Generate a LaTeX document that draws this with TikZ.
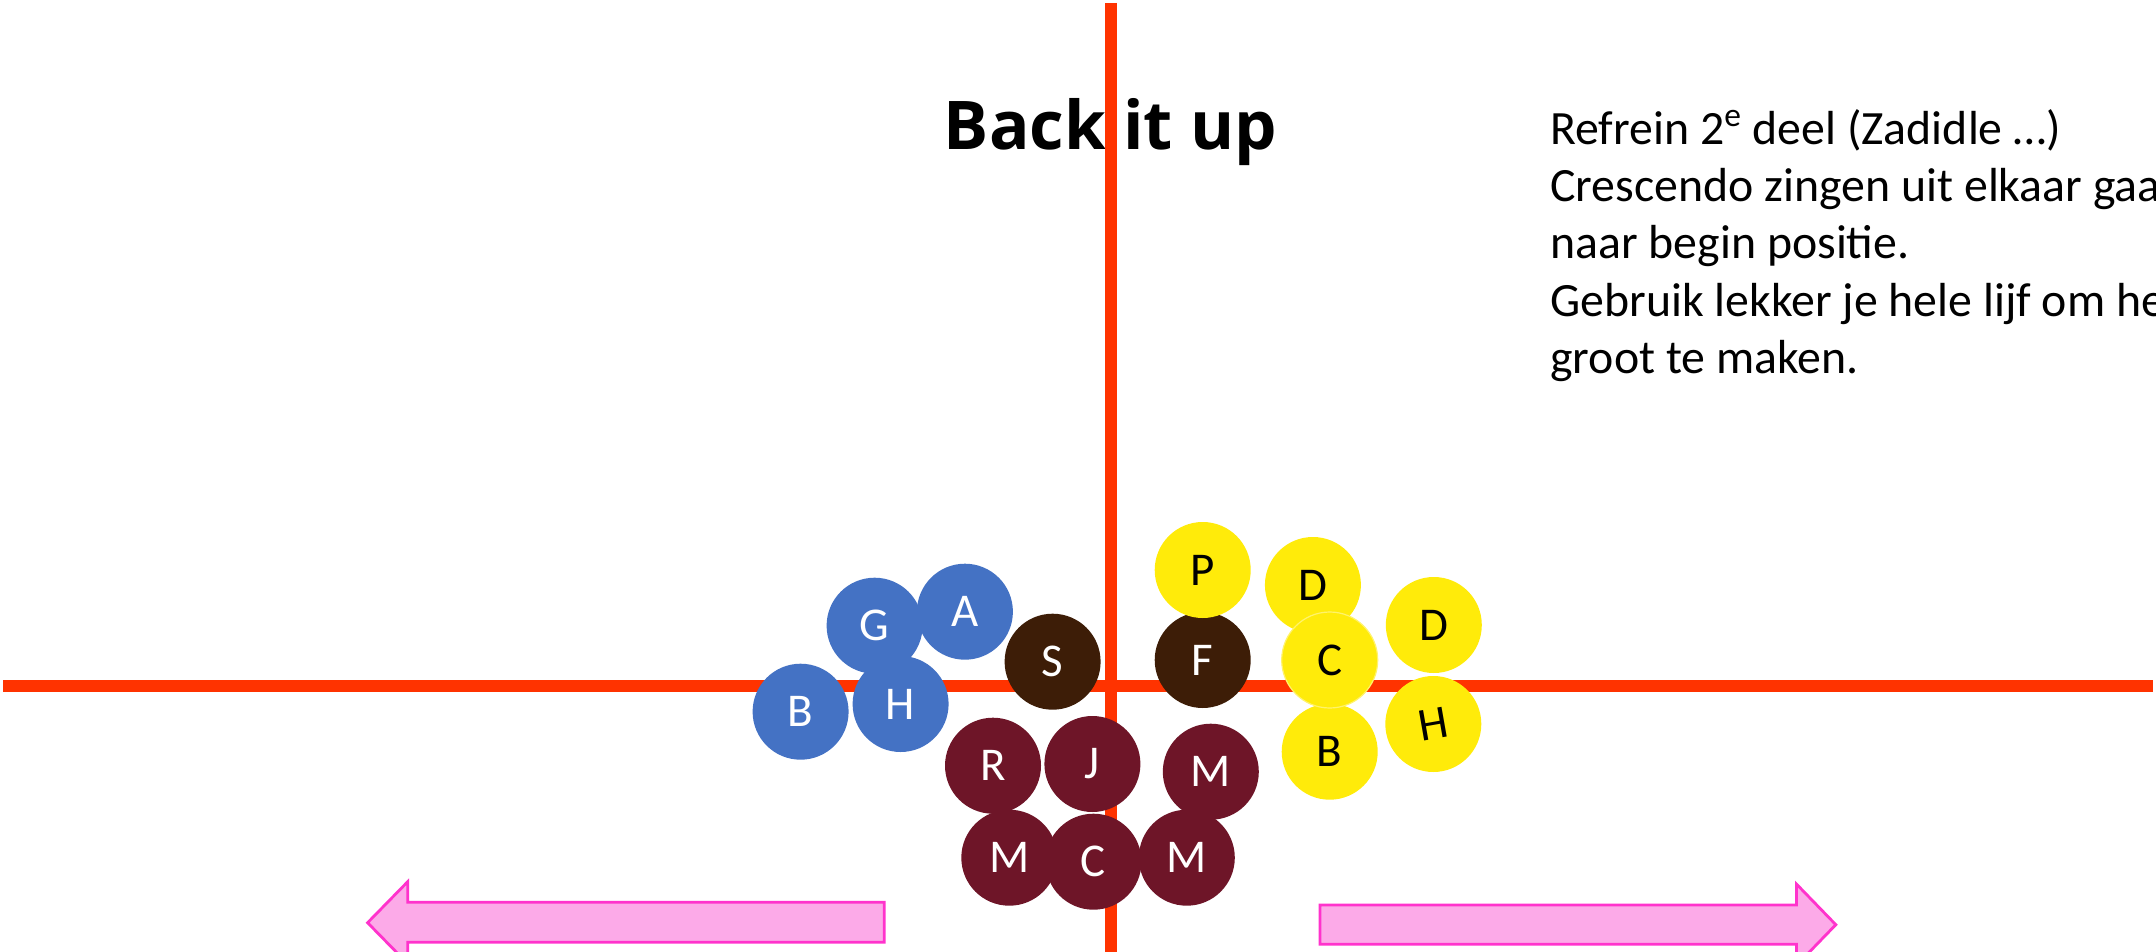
\documentclass[tikz,border=0pt]{standalone}
\usepackage{fontspec}
\setmainfont{Carlito}
\newfontfamily\headfont{Open Sans}
\usetikzlibrary{positioning}
\definecolor{axis}{HTML}{FF3300}
\definecolor{team}{HTML}{4472C4}
\definecolor{solo}{HTML}{3D1D07}
\definecolor{wine}{HTML}{6E1528}
\definecolor{sun}{HTML}{FFEB0A}
\definecolor{pinkfill}{HTML}{FCAAE8}
\definecolor{pinkline}{HTML}{FF33CC}

\begin{document}
\begin{tikzpicture}[x=0.5pt, y=-0.5pt,
  dancer/.style={circle, minimum size=48pt, inner sep=0pt, font=\fontsize{23.5}{28}\selectfont},
  blu/.style={dancer, fill=team, text=white},
  dark/.style={dancer, fill=solo, text=white},
  red/.style={dancer, fill=wine, text=white},
  yel/.style={dancer, fill=sun, text=black},
  flow/.style={fill=pinkfill, draw=pinkline, line width=1.4pt, line join=miter}]
\clip (0,0) rectangle (2156,952);
\node[font=\headfont\bfseries\fontsize{33.6}{40}\selectfont, anchor=base] (title) at (1110.5,150) {Back it up};
% laatste regel op de basislijn
\node[font=\fontsize{23.9}{28.65}\selectfont, align=left, anchor=base west, inner sep=0pt] (notes) at (1550,373.3)
  {Refrein 2\textsuperscript{e} deel (Zadidle …)\\ Crescendo zingen uit elkaar gaan\\ naar begin positie.\\
   Gebruik lekker je hele lijf om het\\ groot te maken.};
% assen
\draw[axis, line width=6pt] (1110.8,3) -- (1110.8,952);
\draw[axis, line width=6pt] (3,685.7) -- (2153,685.7);
% links
\node[blu] (g1) at (874.6,625.7) {G};
\node[blu] (a1) at (964.9,611.7) {A};
\node[blu] (b1) at (800.6,711.7) {B};
\node[blu] (h1) at (900.6,704) {H};
% midden
\node[dark] (s1) at (1052.6,661.7) {S};
\node[dark] (f1) at (1202.7,660) {F};
\node[red] (r1) at (993,765.7) {R};
\node[red] (j1) at (1092.4,764) {J};
\node[red] (m1) at (1210.8,771.7) {M};
\node[red] (m2) at (1009.3,857.7) {M};
\node[red] (c1) at (1093.5,861.7) {C};
\node[red] (m3) at (1186.8,857.7) {M};
% rechts
\node[yel] (p2) at (1202.7,570) {P};
\node[yel] (d2) at (1312.9,585) {D};
\node[yel] (b2) at (1329.7,751.7) {B};
\node[yel, draw=sun!60!white, line width=0.6pt] (c2) at (1329.7,660) {C};
\node[yel] (d3) at (1433.8,625) {D};
\node[yel] (h2) at (1433.3,724) {\rotatebox{10}{H}};
% pijlen
\draw[flow] (884.2,902.3) -- (407.7,902.3) -- (407.7,881.7) -- (367.6,922.7)
  -- (407.7,963.7) -- (407.7,942.3) -- (884.2,942.3) -- cycle;
\draw[flow] (1319.9,905) -- (1796.4,905) -- (1796.4,884) -- (1835.8,924.7)
  -- (1796.4,965.4) -- (1796.4,944.3) -- (1319.9,944.3) -- cycle;
\end{tikzpicture}
\end{document}
